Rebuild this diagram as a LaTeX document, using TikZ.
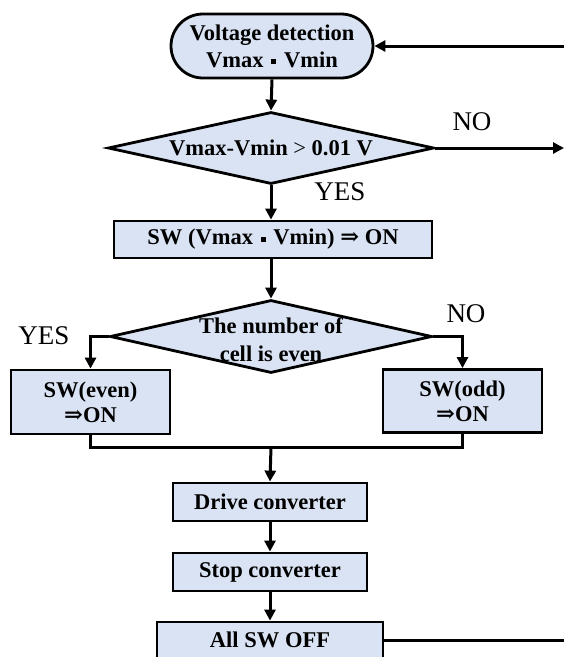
\documentclass[tikz,border=0pt]{standalone}
\usepackage{fontspec}
\setmainfont{Liberation Serif}
\newfontfamily\arrowglyph{DejaVu Serif}
\usetikzlibrary{shapes.geometric,shapes.misc,arrows.meta}
\definecolor{boxfill}{RGB}{218,227,243}
% small square separator between Vmax and Vmin
\newcommand\sqsep{\hspace{0.34em}\rule[0.12em]{0.23em}{0.23em}\hspace{0.34em}}
% bold double arrow
\newcommand\implarrow{{\arrowglyph\bfseries ⇒}}
\begin{document}
\begin{tikzpicture}[x=1pt,y=-1pt,
  every node/.style={font=\fontsize{22}{27}\selectfont},
  procbox/.style={draw=black,line width=2.8pt,fill=boxfill,rectangle,inner sep=0pt,
    align=center,font=\fontsize{22.5}{27}\selectfont\bfseries},
  termbox/.style={procbox,rounded rectangle},
  decide/.style={draw=black,line width=2.8pt,fill=boxfill,diamond,inner sep=0pt},
  decidetext/.style={align=center,inner sep=0pt,font=\fontsize{22.5}{28}\selectfont\bfseries},
  answer/.style={inner sep=0pt,font=\fontsize{27}{30}\selectfont},
  flow/.style={line width=3pt,-{Triangle[length=11pt,width=11pt]}},
  joinline/.style={line width=3pt}]
\useasboundingbox (0,0) rectangle (564,657);

% process steps
\node[termbox,minimum width=202pt,minimum height=64pt] (start) at (272,46)
  {Voltage detection\\Vmax\sqsep Vmin};
\node[decide,minimum width=326pt,minimum height=72pt] (d1) at (271,148) {};
\node[decidetext] (d1t) at (d1.center) {Vmax-Vmin {\mdseries>} 0.01 V};
\node[procbox,minimum width=318pt,minimum height=37pt] (sw) at (273,239.5)
  {SW (Vmax\sqsep Vmin) \implarrow{} ON};
\node[decide,minimum width=322pt,minimum height=73pt] (d2) at (271,336.5) {};
\node[decidetext] (d2t) at (271,340) {The number of\\cell is even};
\node[procbox,minimum width=159pt,minimum height=64pt,
  font=\fontsize{22.5}{25}\selectfont\bfseries] (even) at (90.5,402) {SW(even)\\\implarrow ON};
\node[procbox,minimum width=159pt,minimum height=63pt,
  font=\fontsize{22.5}{25}\selectfont\bfseries] (odd) at (462.5,401) {SW(odd)\\\implarrow ON};
\node[procbox,minimum width=194pt,minimum height=38pt] (drive) at (270,502) {Drive converter};
\node[procbox,minimum width=194pt,minimum height=38pt] (stop) at (270,572) {Stop converter};
\node[procbox,minimum width=226pt,minimum height=36pt] (off) at (270,640) {All SW OFF};

% branch labels
\node[answer] (no1) at (472,122) {NO};
\node[answer] (yes1) at (340,192) {YES};
\node[answer] (yes2) at (44,336) {YES};
\node[answer] (no2) at (466,314) {NO};

% loose ends and junction
\coordinate (backin) at (564,46);
\coordinate (noout) at (564,148);
\coordinate (offout) at (564,640);
\coordinate (merge) at (271,447);

% connectors
\draw[flow] (backin) -- (start.east);
\draw[flow] (start.south) -- (d1.north);
\draw[flow] (d1.east) -- (noout);
\draw[flow] (d1.south) -- (d1.south |- sw.north);
\draw[flow] (d1.south |- sw.south) -- (d2.north);
\draw[flow] (d2.west) -| (even.north);
\draw[flow] (d2.east) -| (odd.north);
\draw[joinline] (even.south) -- (even.south |- merge) -- (odd.south |- merge) -- (odd.south);
\draw[flow] (merge) -- (drive.north);
\draw[flow] (drive.south) -- (stop.north);
\draw[flow] (stop.south) -- (off.north);
\draw[joinline] (off.east) -- (offout);
\end{tikzpicture}
\end{document}
